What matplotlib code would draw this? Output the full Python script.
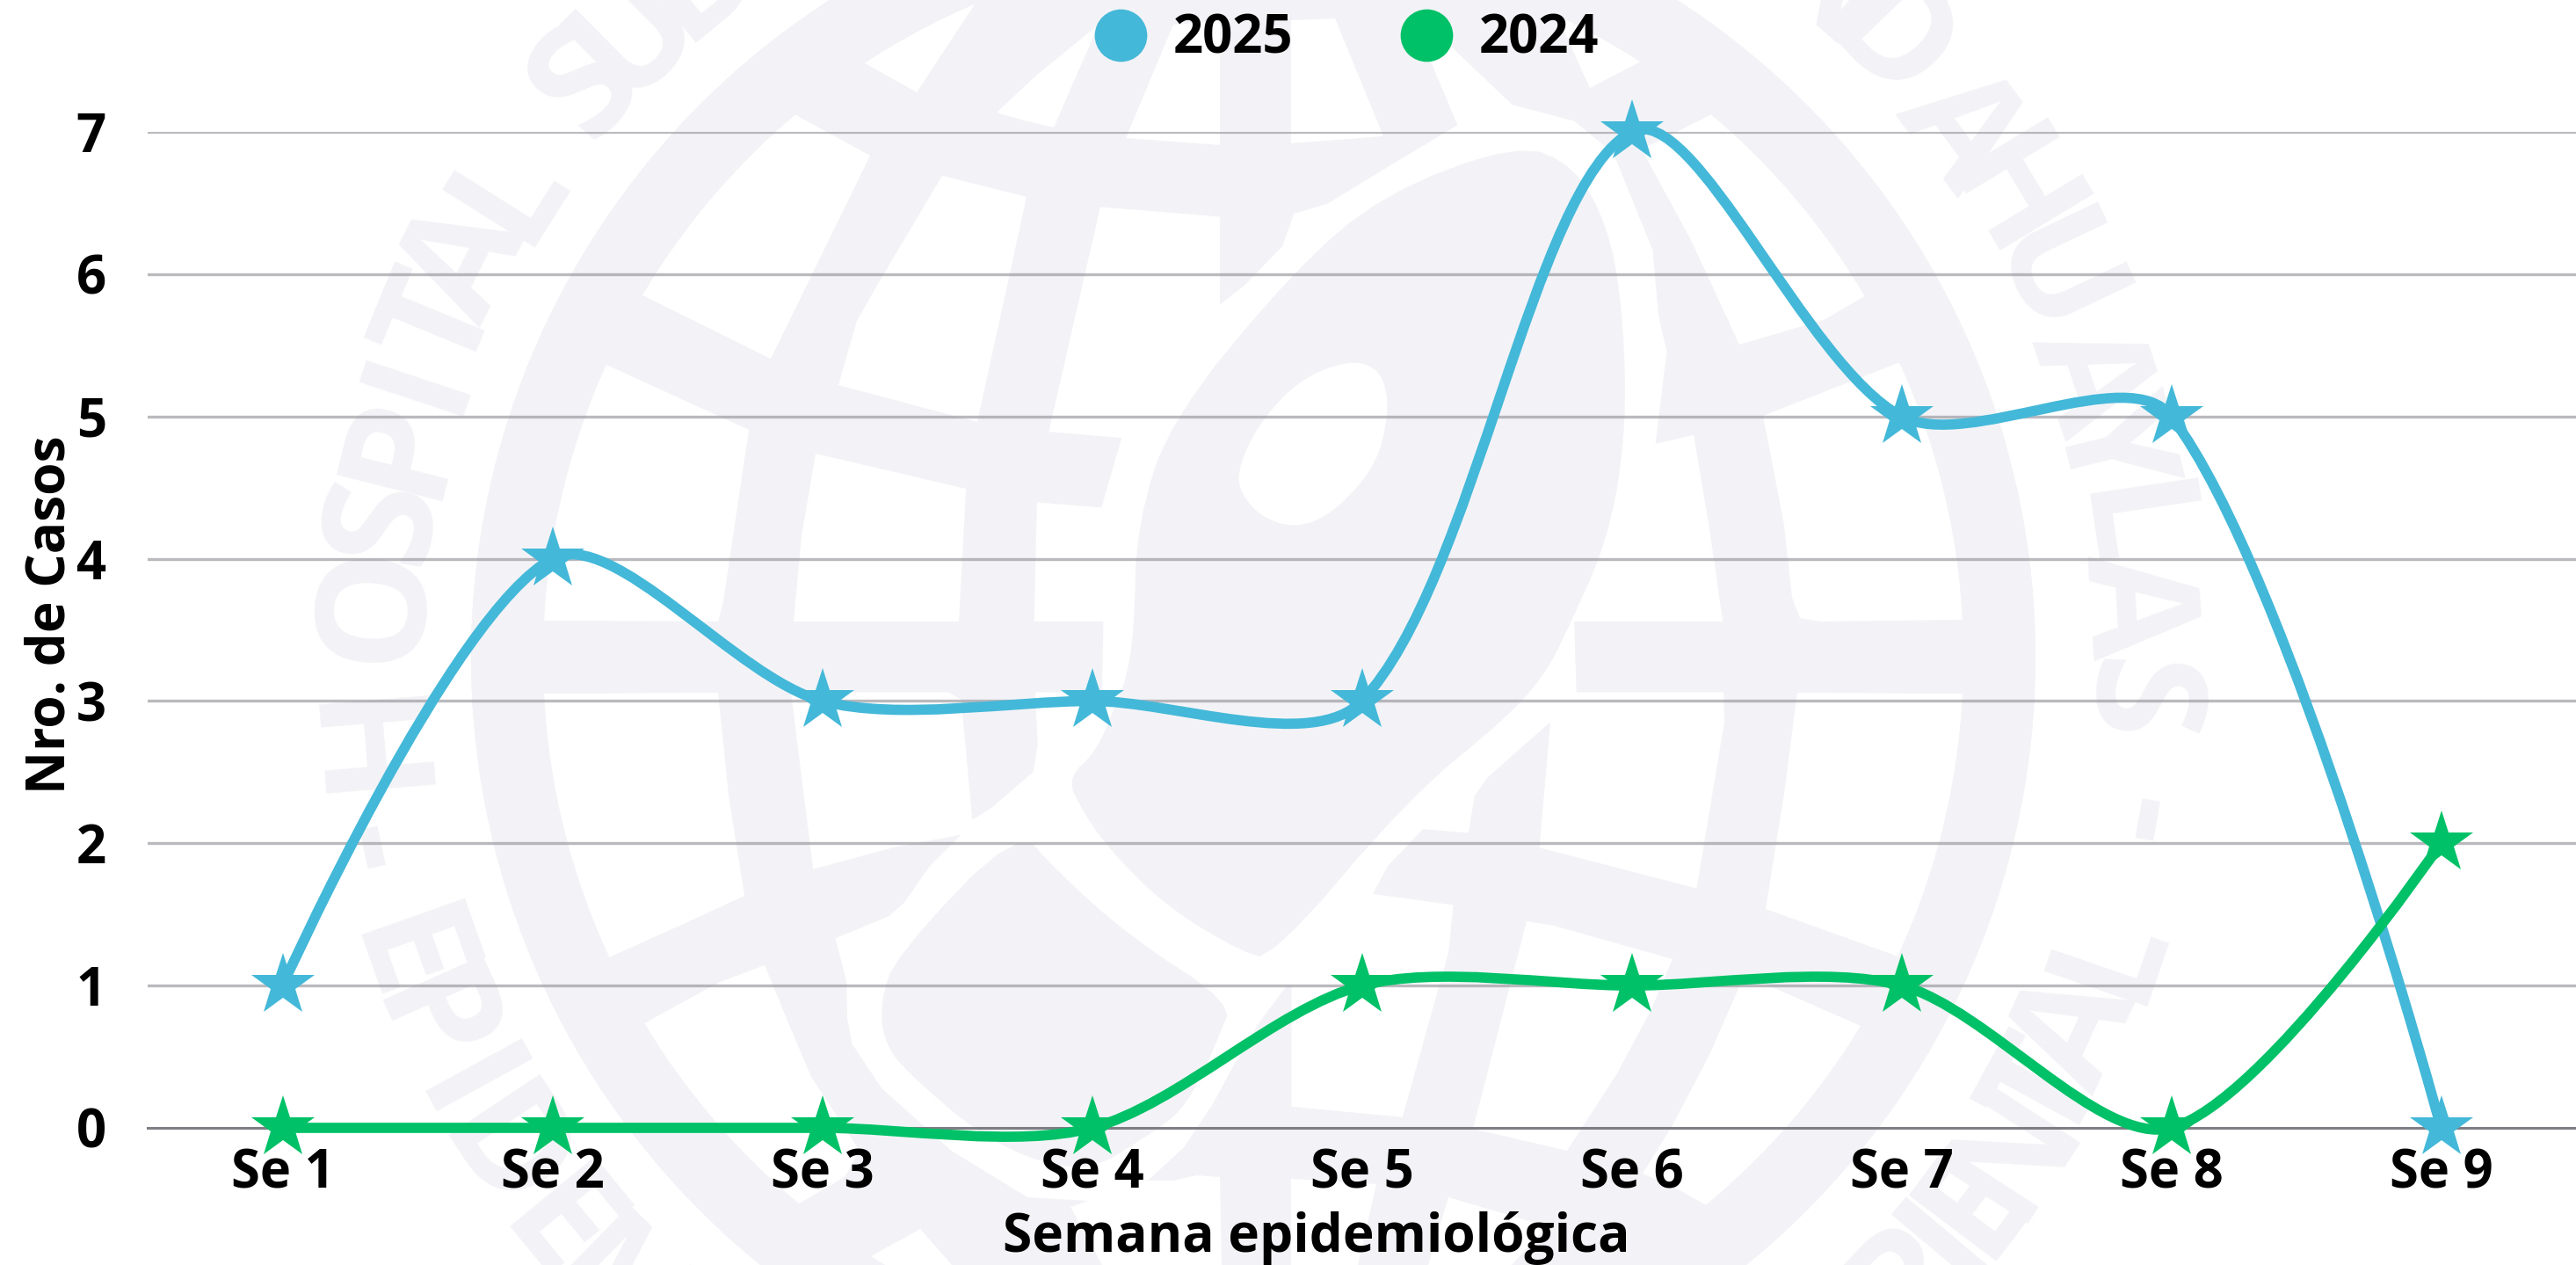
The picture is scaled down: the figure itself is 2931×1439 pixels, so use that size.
import numpy as np
import matplotlib
matplotlib.use('Agg')
import matplotlib.pyplot as plt
from matplotlib.path import Path
from matplotlib.patches import PathPatch, Polygon, Circle, Wedge
from matplotlib.lines import Line2D

plt.rcParams['font.family'] = ['Open Sans', 'DejaVu Sans']
plt.rcParams['font.weight'] = 'bold'

# datos
semanas = ['Se 1', 'Se 2', 'Se 3', 'Se 4', 'Se 5', 'Se 6', 'Se 7', 'Se 8', 'Se 9']
casos_2025 = [1, 4, 3, 3, 3, 7, 5, 5, 0]
casos_2024 = [0, 0, 0, 0, 1, 1, 1, 0, 2]
ticks_y = [0, 1, 2, 3, 4, 5, 6, 7]

AZUL = '#44B8D8'
VERDE = '#00C167'
GRIS = '#F3F3F7'
W, H = 2931, 1439
cx, cy = 1426, 748


# la marca de agua se leyo de recortes ampliados, cada recorte tiene su escala
def z2(p):
    return [(1000 + x * 0.638, y * 0.459) for x, y in p]


def z5(p):
    return [(1000 + x * 0.638, 720 + y * 0.4585) for x, y in p]


def z7(p):
    return [(780 + x * 0.421, 779 + y * 0.421) for x, y in p]


def z8(p):
    return [(1440 + x * 0.421, 779 + y * 0.421) for x, y in p]


def z9(p):
    return [(1200 + x / 3, 1079 + y / 3) for x, y in p]


# redondea un contorno cerrado cortando las esquinas
def redondear(p, veces=2):
    p = np.array(p)
    for _ in range(veces):
        q = np.roll(p, -1, axis=0)
        p = np.column_stack([0.75 * p + 0.25 * q, 0.25 * p + 0.75 * q]).reshape(-1, 2)
    return p


# empuja los vertices que tocan el anillo para que el anillo recorte el borde exacto
def hasta_anillo(p):
    salida = []
    for x, y in p:
        d = np.hypot(x - cx, y - cy)
        if d > 780:
            x = cx + (x - cx) * 835 / d
            y = cy + (y - cy) * 835 / d
        salida.append((x, y))
    return salida


# celda grande blanca alrededor del continente
celda_centro = (
    z2([(395, 513), (608, 537), (608, 755), (650, 710), (720, 610), (740, 530), (800, 505),
        (900, 420), (1032, 310), (985, 155), (1020, 115), (1130, 260), (1240, 300), (1310, 380),
        (1380, 620), (1390, 780), (1405, 870), (1385, 1100), (1453, 1078), (1480, 1300),
        (1505, 1540), (1240, 1540)])
    + z8([(840, 20), (1238, 20), (1240, 100), (1165, 550), (740, 440), (770, 100), (600, 250),
          (565, 300), (548, 400), (425, 390), (330, 490), (290, 565), (507, 595), (495, 720),
          (370, 1168), (70, 1140), (70, 815)])
    + z9([(790, 130), (700, 250), (610, 400), (540, 530), (440, 680), (320, 790)])
    + z7([(1100, 1395), (925, 1385), (720, 1260), (530, 1090), (450, 970), (437, 900), (435, 800),
          (405, 685), (550, 625), (590, 590), (660, 490), (745, 405), (560, 440), (345, 498),
          (320, 300), (285, 20), (710, 20), (745, 40), (775, 365), (830, 330), (940, 235),
          (952, 160), (945, 20)])
    + z5([(398, 148), (400, 0)])
    + z2([(400, 1540), (277, 1540), (282, 1245), (397, 1258), (433, 1085), (303, 1070)])
)

continente = (
    z2([(1140, 355), (1240, 410), (1300, 560), (1325, 750), (1333, 1000), (1320, 1200),
        (1290, 1370), (1235, 1540)])
    + z5([(1190, 100), (1120, 210), (945, 410), (700, 810)])
    + z7([(1500, 720), (1300, 600), (1140, 440), (1060, 320), (1035, 250), (1110, 180), (1160, 60)])
    + z5([(440, 120), (455, 0)])
    + z2([(460, 1300), (520, 1040), (740, 670), (900, 480)])
)

isla = z2([(850, 893), (895, 920), (910, 1000), (895, 1120), (860, 1200), (800, 1280), (740, 1308),
           (680, 1280), (645, 1220), (640, 1170), (665, 1080), (720, 980), (780, 920)])

mancha_sur = (
    z7([(900, 385), (1000, 500), (1200, 680), (1478, 860)])
    + z9([(560, 300), (510, 420), (430, 560), (300, 650)])
    + z7([(1100, 1310), (950, 1290), (790, 1210), (630, 1075), (540, 980), (525, 860), (570, 730)])
)

# resto de celdas blancas del globo, ya en pixeles
celdas = [
    [(898, 138), (990, 177), (877, 408), (729, 337), (800, 235)],
    [(973, 80), (1115, 0), (1148, 0), (1043, 105)],
    [(686, 413), (852, 489), (823, 684), (817, 707), (619, 707), (625, 620), (640, 530)],
    [(928, 516), (1099, 556), (1091, 707), (903, 707), (912, 610)],
    [(1072, 200), (1168, 224), (1112, 480), (954, 438), (975, 365), (1000, 321)],
    [(1134, 128), (1180, 85), (1250, 28), (1199, 145), (1165, 137)],
    [(1335, 28), (1388, 24), (1388, 165), (1281, 157)],
    [(1469, 23), (1519, 21), (1574, 155), (1469, 163)],
    z2([(1118, 0), (1280, 90), (1375, 175), (1268, 218), (1170, 0)]),
    [(1868, 170), (1955, 138), (2000, 179), (2065, 257), (2122, 337), (2077, 363), (2000, 386),
     (1979, 392), (1925, 275)],
    [(2163, 413), (2006, 473), (2030, 597), (2039, 680), (2048, 703), (2071, 707), (2233, 706),
     (2229, 597), (2202, 487)],
    [(2045, 788), (2233, 788), (2223, 858), (2202, 958), (2163, 1087), (2009, 1034), (2030, 903)],
    [(1737, 1048), (1768, 1053), (1903, 1091), (1878, 1150), (1840, 1221), (1783, 1309), (1676, 1284)],
    [(1980, 1120), (2010, 1120), (2117, 1163), (2067, 1240), (2000, 1317), (1948, 1363), (1900, 1348),
     (1869, 1335), (1903, 1280), (1945, 1200)],
    [(619, 788), (817, 788), (829, 905), (847, 1019), (780, 1050), (692, 1089), (651, 990), (628, 880)],
    [(870, 1098), (817, 1118), (733, 1163), (757, 1207), (780, 1238), (822, 1288), (864, 1335),
     (906, 1358), (961, 1339), (978, 1309), (923, 1225), (898, 1166)],
    [(982, 1417), (1047, 1398), (1083, 1439), (1016, 1439)],
    [(1218, 1373), (1306, 1343), (1336, 1343), (1361, 1337), (1388, 1339), (1390, 1439), (1254, 1439)],
    [(1469, 1341), (1566, 1347), (1545, 1439), (1469, 1439)],
    [(1648, 1362), (1760, 1395), (1720, 1439), (1625, 1439)],
]

# letras del borde: (letra, angulo en grados)
letras_arriba = [('H', 184.7), ('O', 176.4), ('S', 171.0), ('P', 166.0), ('I', 161.6), ('T', 157.6),
                 ('A', 153.3), ('L', 147.8), ('S', 139.3), ('U', 134.7), ('B', 129.4),
                 ('N', 49.5), ('D', 44.0), ('A', 36.7), ('H', 31.2), ('U', 25.3), ('A', 18.5),
                 ('Y', 13.8), ('L', 8.4), ('A', 3.4), ('S', -2.8)]
letras_abajo = [('-', 192.3), ('E', 199.5), ('P', 204.0), ('I', 208.7), ('D', 213.6), ('E', 219.4),
                ('M', 225.5), ('-', -10.0), ('L', -19.0), ('A', -24.4), ('T', -28.7), ('N', -32.9),
                ('E', -37.0), ('I', -40.0), ('R', -43.5)]

fig = plt.figure(figsize=(W / 100, H / 100), dpi=100)

# marca de agua
wm = fig.add_axes([0, 0, 1, 1], zorder=0)
wm.set_xlim(0, W)
wm.set_ylim(H, 0)
wm.axis('off')
wm.add_patch(Circle((cx, cy), 890, color=GRIS, lw=0))
for pts in [celda_centro] + celdas:
    wm.add_patch(Polygon(hasta_anillo(pts), closed=True, color='white', lw=0))
wm.add_patch(Polygon(redondear(continente), closed=True, color=GRIS, lw=0))
wm.add_patch(Polygon(redondear(isla), closed=True, color='white', lw=0))
wm.add_patch(Polygon(redondear(mancha_sur), closed=True, color=GRIS, lw=0))
wm.add_patch(Wedge((cx, cy), 890, 0, 360, width=82, color=GRIS, lw=0))
# arriba la base de la letra mira al centro, abajo mira hacia afuera
for letra, ang in letras_arriba:
    a = np.radians(ang)
    wm.text(cx + 953 * np.cos(a), cy - 953 * np.sin(a), letra, color=GRIS, fontsize=125,
            rotation=ang - 90, rotation_mode='anchor', ha='center', va='baseline', clip_on=True)
for letra, ang in letras_abajo:
    a = np.radians(ang)
    wm.text(cx + 1077 * np.cos(a), cy - 1077 * np.sin(a), letra, color=GRIS, fontsize=125,
            rotation=ang + 90, rotation_mode='anchor', ha='center', va='baseline', clip_on=True)

# grafico
ax = fig.add_axes([168 / W, 1 - 1283 / H, (W - 168) / W, (1283 - 150) / H], zorder=1)
ax.patch.set_alpha(0)
ax.set_xlim(-0.5, 8.5)
ax.set_ylim(0, 7)
for s in ax.spines.values():
    s.set_visible(False)
for v in ticks_y:
    if v == 0:
        ax.axhline(v, color='#707078', lw=2.2, alpha=0.9, zorder=1, clip_on=False)
    else:
        ax.axhline(v, color='#8c8c94', lw=2.4, alpha=0.6, zorder=1)


# curva suavizada: los puntos de control se calculan en pixeles con los datos de la serie
def curva(valores, t=0.3):
    xs = np.arange(len(valores))
    p = ax.transData.transform(np.column_stack([xs, valores]))
    verts = [p[0]]
    codes = [Path.MOVETO]
    ctrl_in = [p[0]] * len(p)
    ctrl_out = [p[0]] * len(p)
    ctrl_in[-1] = p[-1]
    ctrl_out[-1] = p[-1]
    for i in range(1, len(p) - 1):
        d0 = np.hypot(*(p[i] - p[i - 1]))
        d1 = np.hypot(*(p[i + 1] - p[i]))
        v = p[i + 1] - p[i - 1]
        ctrl_in[i] = p[i] - v * t * d0 / (d0 + d1)
        ctrl_out[i] = p[i] + v * t * d1 / (d0 + d1)
    for i in range(len(p) - 1):
        verts += [ctrl_out[i], ctrl_in[i + 1], p[i + 1]]
        codes += [Path.CURVE4] * 3
    return Path(ax.transData.inverted().transform(np.array(verts)), codes)


for valores, color, z in [(casos_2025, AZUL, 3), (casos_2024, VERDE, 4)]:
    ax.add_patch(PathPatch(curva(valores), fill=False, edgecolor=color, lw=8.4,
                           capstyle='round', zorder=z, clip_on=False))
    ax.plot(range(len(valores)), valores, ls='none', marker='*', ms=54, mew=0,
            color=color, zorder=z, clip_on=False)

ax.set_xticks(range(len(semanas)))
ax.set_xticklabels(semanas)
ax.set_yticks(ticks_y)
ax.tick_params(axis='x', length=0, pad=16, labelsize=43, labelcolor='black')
ax.tick_params(axis='y', length=0, pad=34, labelsize=43, labelcolor='black')
ax.set_xlabel('Semana epidemiológica', fontsize=43.5, fontweight='bold')
ax.xaxis.set_label_coords((1498 - 168) / (W - 168), (1283 - 1378) / (1283 - 150))
ax.set_ylabel('Nro. de Casos', fontsize=43.5, fontweight='bold')
ax.yaxis.set_label_coords((89 - 168) / (W - 168), (1283 - 699) / (1283 - 150))

handles = [Line2D([], [], ls='none', marker='o', ms=43, mew=0, color=AZUL, label='2025'),
           Line2D([], [], ls='none', marker='o', ms=43, mew=0, color=VERDE, label='2024')]
fig.legend(handles=handles, ncol=2, frameon=False, fontsize=43, loc='center',
           bbox_to_anchor=(1532 / W, 1 - 45 / H), handlelength=1, handletextpad=0.5,
           columnspacing=2.05, borderpad=0, borderaxespad=0)

fig.savefig('out.png', dpi=100)
